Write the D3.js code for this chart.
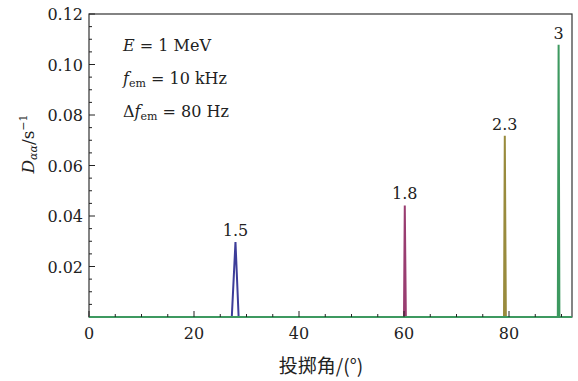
<!DOCTYPE html>
<html>
<head>
<meta charset="utf-8">
<script src="https://cdn.jsdelivr.net/npm/d3@7"></script>
<style>
  body { margin: 0; background: #fff; }
  text { font-family: "DejaVu Serif", "Times New Roman", serif; fill: #222; }
</style>
</head>
<body>
<svg width="578" height="381"></svg>
<script>
// pitch angle (deg) and D_aa (1/s), one list per peak
const seriesNames = ['1.5', '1.8', '2.3', '3'];
const angles15 = [0, 27.2, 27.9, 28.5, 92];
const values15 = [0, 0, 0.0297, 0, 0];
const angles18 = [0, 60.0, 60.15, 60.35, 92];
const values18 = [0, 0, 0.0442, 0, 0];
const angles23 = [0, 79.05, 79.2, 79.4, 92];
const values23 = [0, 0, 0.0718, 0, 0];
const angles3 = [0, 89.3, 89.45, 89.6, 92];
const values3 = [0, 0, 0.1078, 0, 0];
const colors = ['#3d3d99', '#993d71', '#998b3d', '#3d9960'];

const xTicks = [0, 20, 40, 60, 80];
const yTicks = [0.02, 0.04, 0.06, 0.08, 0.10, 0.12];

const series = [
    angles15.map((a, i) => ({a, v: values15[i]})),
    angles18.map((a, i) => ({a, v: values18[i]})),
    angles23.map((a, i) => ({a, v: values23[i]})),
    angles3.map((a, i) => ({a, v: values3[i]}))
];

const svg = d3.select('svg');
const mLeft = 89, mRight = 572, mTop = 14, mBottom = 317;

const x = d3.scaleLinear().domain([0, 92]).range([mLeft, mRight]);
const y = d3.scaleLinear().domain([0, 0.12]).range([mBottom, mTop]);

// frame
svg.append('rect')
    .attr('x', mLeft).attr('y', mTop)
    .attr('width', mRight - mLeft).attr('height', mBottom - mTop)
    .attr('fill', 'none').attr('stroke', '#333').attr('stroke-width', 1.2);

// curves
const line = d3.line().x(d => x(d.a)).y(d => y(d.v));
svg.append('g')
    .selectAll('path')
    .data(series)
    .enter().append('path')
    .attr('d', line)
    .attr('fill', 'none')
    .attr('stroke', (d, i) => colors[i])
    .attr('stroke-width', 2)
    .attr('stroke-linejoin', 'miter');

// axes with inward ticks
const xMinor = d3.range(0, 91, 5).filter(t => t % 20 !== 0);
const yMinor = d3.range(0.005, 0.12, 0.005).filter(t => Math.abs(t / 0.02 - Math.round(t / 0.02)) > 1e-6);

const ax = svg.append('g').attr('stroke', '#222').attr('stroke-width', 1);
ax.selectAll('line.xmaj').data(xTicks).enter().append('line')
    .attr('x1', d => x(d)).attr('x2', d => x(d))
    .attr('y1', mBottom).attr('y2', mBottom - 6);
ax.selectAll('line.xmin').data(xMinor).enter().append('line')
    .attr('x1', d => x(d)).attr('x2', d => x(d))
    .attr('y1', mBottom).attr('y2', mBottom - 3);
ax.selectAll('line.ymaj').data(yTicks).enter().append('line')
    .attr('x1', mLeft).attr('x2', mLeft + 6)
    .attr('y1', d => y(d)).attr('y2', d => y(d));
ax.selectAll('line.ymin').data(yMinor).enter().append('line')
    .attr('x1', mLeft).attr('x2', mLeft + 3)
    .attr('y1', d => y(d)).attr('y2', d => y(d));

svg.append('g').selectAll('text')
    .data(xTicks).enter().append('text')
    .attr('x', d => x(d)).attr('y', mBottom + 22)
    .attr('text-anchor', 'middle').attr('font-size', 16)
    .text(d => d);

svg.append('g').selectAll('text')
    .data(yTicks).enter().append('text')
    .attr('x', mLeft - 6).attr('y', d => y(d) + 6)
    .attr('text-anchor', 'end').attr('font-size', 16)
    .text(d => d.toFixed(2));

// peak labels
const peakIdx = 2;
svg.append('g').selectAll('text')
    .data(series).enter().append('text')
    .attr('x', d => x(d[peakIdx].a))
    .attr('y', d => y(d[peakIdx].v) - 6)
    .attr('text-anchor', 'middle').attr('font-size', 16)
    .text((d, i) => seriesNames[i]);

// parameter box
const eq = '\u00a0=\u00a0';
const info = svg.append('g').attr('font-size', 16);
const t1 = info.append('text').attr('x', 123).attr('y', 51);
t1.append('tspan').attr('font-style', 'italic').text('E');
t1.append('tspan').text(eq + '1 MeV');
const t2 = info.append('text').attr('x', 123).attr('y', 84);
t2.append('tspan').attr('font-style', 'italic').text('f');
t2.append('tspan').attr('font-size', 11).attr('dy', 3).text('em');
t2.append('tspan').attr('dy', -3).text(eq + '10 kHz');
const t3 = info.append('text').attr('x', 123).attr('y', 117);
t3.append('tspan').text('Δ');
t3.append('tspan').attr('font-style', 'italic').text('f');
t3.append('tspan').attr('font-size', 11).attr('dy', 3).text('em');
t3.append('tspan').attr('dy', -3).text(eq + '80 Hz');

// axis titles
const yl = svg.append('text')
    .attr('transform', 'translate(34,144) rotate(-90)')
    .attr('text-anchor', 'middle').attr('font-size', 17);
yl.append('tspan').attr('font-style', 'italic').text('D');
yl.append('tspan').attr('font-size', 11).attr('font-style', 'italic').attr('dy', 3).text('αα');
yl.append('tspan').attr('dy', -3).text('/s');
yl.append('tspan').attr('font-size', 11).attr('dy', -7).text('−1');

svg.append('text')
    .attr('x', 321).attr('y', 373)
    .attr('text-anchor', 'middle').attr('font-size', 19)
    .style('font-family', '"Noto Sans CJK SC", "DejaVu Serif", serif')
    .text('投掷角/(°)');
</script>
</body>
</html>
